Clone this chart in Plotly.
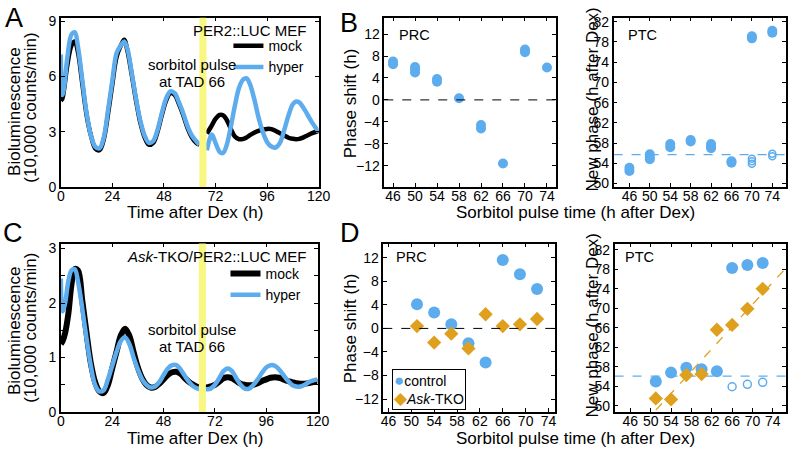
import plotly.graph_objects as go

W, H = 802, 460
FONT = "Liberation Sans, Arial, Helvetica, sans-serif"
BLUE = "#5DADEE"
ORANGE = "#DFA01E"
YELLOW = "#F7F781"

# A: PER2::LUC MEF, bioluminescence (10,000 counts/min) vs time after Dex (h)
A_T_PRE = [0, 0.7, 1.5, 3, 5, 6.5, 8, 10, 12, 14, 16, 18, 20, 22, 24, 26, 28, 29.5,
           31, 33, 35, 37, 39, 41, 43, 45, 47, 49, 51, 53, 55, 57, 59, 61, 63, 64.5]
A_MOCK_PRE = [4.7, 4.8, 5.3, 6.6, 7.7, 7.9, 7.3, 5.6, 3.9, 2.8, 2.1, 2.0, 2.6, 4.0, 5.6, 7.1, 7.7, 8.0,
              7.4, 6.1, 4.7, 3.5, 2.7, 2.3, 2.4, 3.0, 3.9, 4.7, 5.1, 5.0, 4.5, 3.9, 3.2, 2.7, 2.4, 2.3]
A_HYPER_PRE = [7.2, 5.0, 5.4, 7.0, 8.3, 8.4, 7.6, 5.8, 4.0, 2.8, 2.2, 2.1, 2.7, 4.2, 5.8, 7.3, 7.7, 7.9,
               7.5, 6.2, 4.8, 3.6, 2.8, 2.4, 2.5, 3.1, 4.0, 4.8, 5.2, 5.1, 4.6, 4.0, 3.3, 2.8, 2.5, 2.3]
A_T_POST = [68, 69, 70.3, 72, 74, 75.5, 77, 79, 81, 83, 85, 86.5, 88, 90, 92, 94, 96, 98, 100,
            102, 104, 106, 108, 109.5, 111, 113, 115, 117, 120]
A_MOCK_POST = [2.9, 3.1, 3.35, 3.7, 3.92, 3.9, 3.7, 3.2, 2.75, 2.6, 2.62, 2.7, 2.82, 2.95, 3.05, 3.12,
               3.16, 3.15, 3.05, 2.92, 2.8, 2.68, 2.62, 2.6, 2.62, 2.7, 2.82, 2.93, 3.05]
A_HYPER_POST = [2.0, 2.5, 2.85, 2.4, 1.9, 1.85, 2.2, 3.2, 4.4, 5.4, 5.85, 5.9, 5.6, 4.8, 3.8, 3.0,
                2.45, 2.2, 2.15, 2.4, 3.1, 3.9, 4.5, 4.65, 4.6, 4.3, 3.9, 3.5, 3.0]

# C: Ask-TKO/PER2::LUC MEF
C_T = [0, 0.8, 2, 3.5, 5, 6.5, 8, 10, 12, 14, 16, 18, 20, 22, 24, 26, 28, 30, 32, 34, 36, 38,
       40, 42, 44, 46, 48, 50, 52, 54, 56, 58, 60, 62, 64, 66, 68, 70, 72, 74, 76, 78, 80, 82,
       84, 86, 88, 90, 92, 94, 96, 98, 100, 102, 104, 106, 108, 110, 112, 114, 116, 118, 120]
C_MOCK = [1.25, 1.3, 1.45, 1.8, 2.35, 2.62, 2.6, 2.05, 1.45, 0.9, 0.55, 0.38, 0.35, 0.5, 0.8,
          1.1, 1.4, 1.53, 1.4, 1.1, 0.82, 0.62, 0.5, 0.45, 0.46, 0.52, 0.6, 0.68, 0.73, 0.74,
          0.7, 0.62, 0.55, 0.5, 0.46, 0.45, 0.45, 0.47, 0.5, 0.56, 0.62, 0.64, 0.62, 0.57, 0.52,
          0.5, 0.49, 0.5, 0.53, 0.57, 0.6, 0.63, 0.64, 0.63, 0.6, 0.57, 0.55, 0.53, 0.52, 0.52,
          0.53, 0.55, 0.55]
C_HYPER = [2.45, 1.85, 2.0, 2.4, 2.6, 2.62, 2.4, 1.9, 1.35, 0.85, 0.5, 0.38, 0.4, 0.6, 0.85,
           1.1, 1.3, 1.37, 1.25, 1.0, 0.78, 0.6, 0.5, 0.45, 0.47, 0.55, 0.68, 0.8, 0.86, 0.86,
           0.78, 0.66, 0.55, 0.47, 0.43, 0.42, 0.42, 0.43, 0.5, 0.62, 0.75, 0.8, 0.75, 0.62, 0.5,
           0.43, 0.43, 0.5, 0.6, 0.72, 0.82, 0.86, 0.85, 0.78, 0.68, 0.58, 0.5, 0.47, 0.47, 0.5,
           0.55, 0.58, 0.6]

PULSE = [64.5, 67.8]

# B: PRC / PTC, sorbitol pulse time (h after Dex)
B_PRC_X = [46, 46, 50, 50, 50, 54, 54, 58, 62, 62, 66, 70, 70, 74]
B_PRC_Y = [6.5, 7.0, 5.0, 5.5, 6.0, 3.3, 3.8, 0.3, -4.6, -5.2, -11.6, 8.7, 9.2, 5.9]
B_PTC_X = [46, 46, 50, 50, 50, 54, 54, 58, 58, 62, 62, 62, 66, 66, 70, 70, 74, 74]
B_PTC_Y = [52.5, 53.1, 54.8, 55.3, 55.8, 57.2, 57.8, 58.3, 58.6, 57.0, 57.4, 57.8, 54.1, 54.4,
           78.7, 79.1, 79.8, 80.2]
B_PTC_OPEN_X = [70, 70, 70, 74, 74]
B_PTC_OPEN_Y = [53.9, 54.4, 54.9, 55.4, 55.9]
B_PTC_MEAN = 55.7

# D: control vs Ask-TKO
D_T = [51, 54, 57, 60, 63, 66, 69, 72]
D_PRC_CTRL = [4.1, 2.7, 0.7, -2.5, -5.8, 11.6, 9.2, 6.7]
D_PRC_TKO = [0.4, -2.4, -0.9, -3.4, 2.4, 0.4, 0.7, 1.6]
D_PTC_CTRL = [55.0, 56.8, 57.8, 57.5, 57.1, 78.3, 78.9, 79.3]
D_PTC_OPEN_X = [66, 69, 72]
D_PTC_OPEN_Y = [53.9, 54.4, 54.8]
D_PTC_TKO = [51.5, 51.3, 56.3, 56.5, 65.6, 66.6, 69.9, 74.0]
D_FIT_X = [51.0, 76.4]
D_FIT_Y = [49.1, 78.1]
D_PTC_MEAN = 56.1


def px_x(a, b):
    return [a / W, b / W]


def px_y(top, bottom):
    return [1 - bottom / H, 1 - top / H]


def axis(**kw):
    base = dict(showline=True, linecolor="black", linewidth=1.5, mirror="ticks",
                ticks="inside", ticklen=4, tickwidth=1.2, tickcolor="black",
                showgrid=False, zeroline=False,
                tickfont=dict(size=14, color="black", family=FONT))
    base.update(kw)
    return base


def xaxis(**kw):
    return axis(ticklabelstandoff=-5, **kw)


fig = go.Figure()

# A
fig.add_trace(go.Scatter(x=A_T_PRE + [None] + A_T_POST, y=A_MOCK_PRE + [None] + A_MOCK_POST,
                         mode="lines", line=dict(color="black", width=4.5, shape="spline"),
                         name="mock", legend="legend", xaxis="x", yaxis="y"))
fig.add_trace(go.Scatter(x=A_T_PRE + [None] + A_T_POST, y=A_HYPER_PRE + [None] + A_HYPER_POST,
                         mode="lines", line=dict(color=BLUE, width=4.5, shape="spline"),
                         name="hyper", legend="legend", xaxis="x", yaxis="y"))
# C
fig.add_trace(go.Scatter(x=C_T, y=C_MOCK, mode="lines",
                         line=dict(color="black", width=6, shape="spline"),
                         name="mock", legend="legend2", xaxis="x4", yaxis="y4"))
fig.add_trace(go.Scatter(x=C_T, y=C_HYPER, mode="lines",
                         line=dict(color=BLUE, width=4.5, shape="spline"),
                         name="hyper", legend="legend2", xaxis="x4", yaxis="y4"))

# B PRC / PTC
fig.add_trace(go.Scatter(x=B_PRC_X, y=B_PRC_Y, mode="markers", showlegend=False,
                         marker=dict(color=BLUE, size=10), xaxis="x2", yaxis="y2"))
fig.add_trace(go.Scatter(x=B_PTC_X, y=B_PTC_Y, mode="markers", showlegend=False,
                         marker=dict(color=BLUE, size=10), xaxis="x3", yaxis="y3"))
fig.add_trace(go.Scatter(x=B_PTC_OPEN_X, y=B_PTC_OPEN_Y, mode="markers", showlegend=False,
                         marker=dict(color=BLUE, size=7, symbol="circle-open", line=dict(width=1.5)),
                         xaxis="x3", yaxis="y3"))

# D PRC
fig.add_trace(go.Scatter(x=D_T, y=D_PRC_CTRL, mode="markers", showlegend=False,
                         marker=dict(color=BLUE, size=12), xaxis="x5", yaxis="y5"))
fig.add_trace(go.Scatter(x=D_T, y=D_PRC_TKO, mode="markers", showlegend=False,
                         marker=dict(color=ORANGE, size=11, symbol="diamond"), xaxis="x5", yaxis="y5"))
# D PTC
fig.add_trace(go.Scatter(x=D_FIT_X, y=D_FIT_Y, mode="lines", showlegend=False,
                         line=dict(color=ORANGE, width=1.3, dash="dash"), xaxis="x6", yaxis="y6"))
fig.add_trace(go.Scatter(x=D_T, y=D_PTC_CTRL, mode="markers", showlegend=False,
                         marker=dict(color=BLUE, size=12), xaxis="x6", yaxis="y6"))
fig.add_trace(go.Scatter(x=D_PTC_OPEN_X, y=D_PTC_OPEN_Y, mode="markers", showlegend=False,
                         marker=dict(color=BLUE, size=8, symbol="circle-open", line=dict(width=1.5)),
                         xaxis="x6", yaxis="y6"))
fig.add_trace(go.Scatter(x=D_T, y=D_PTC_TKO, mode="markers", showlegend=False,
                         marker=dict(color=ORANGE, size=11, symbol="diamond"), xaxis="x6", yaxis="y6"))

# sorbitol pulse bands
for xr, yr in [("x", "y domain"), ("x4", "y4 domain")]:
    fig.add_shape(type="rect", xref=xr, yref=yr, x0=PULSE[0], x1=PULSE[1], y0=0, y1=1,
                  fillcolor=YELLOW, line_width=0, layer="above")

# reference lines
fig.add_shape(type="line", xref="x2 domain", yref="y2", x0=0, x1=1, y0=0, y1=0,
              line=dict(color="black", width=1, dash="dash"))
fig.add_shape(type="line", xref="x5 domain", yref="y5", x0=0, x1=1, y0=0, y1=0,
              line=dict(color="black", width=1, dash="dash"))
fig.add_shape(type="line", xref="x3 domain", yref="y3", x0=0, x1=1, y0=B_PTC_MEAN, y1=B_PTC_MEAN,
              line=dict(color=BLUE, width=1.3, dash="dash"), layer="below")
fig.add_shape(type="line", xref="x6 domain", yref="y6", x0=0, x1=1, y0=D_PTC_MEAN, y1=D_PTC_MEAN,
              line=dict(color=BLUE, width=1.3, dash="dash"), layer="below")

top_row = px_y(14, 188)
bot_row = px_y(246, 419)

fig.update_layout(
    width=W, height=H, margin=dict(l=0, r=0, t=0, b=0),
    paper_bgcolor="white", plot_bgcolor="white",
    font=dict(family=FONT, color="black", size=14),
    xaxis=xaxis(domain=px_x(58, 321), range=[0, 120], dtick=24, tick0=0, anchor="y"),
    yaxis=axis(domain=top_row, range=[0, 9.2], dtick=3, tick0=0, anchor="x"),
    xaxis2=xaxis(domain=px_x(388, 563), range=[44.4, 75.6], dtick=4, tick0=46, anchor="y2"),
    yaxis2=axis(domain=top_row, range=[-15.9, 15], dtick=4, tick0=0, anchor="x2"),
    xaxis3=xaxis(domain=px_x(622, 798), range=[42.9, 76.7], dtick=4, tick0=46, anchor="y3"),
    yaxis3=axis(domain=top_row, range=[49.3, 82.8], dtick=4, tick0=50, anchor="x3"),
    xaxis4=xaxis(domain=px_x(58, 320), range=[0, 120], dtick=24, tick0=0, anchor="y4"),
    yaxis4=axis(domain=bot_row, range=[0, 3.09], dtick=1, tick0=0, anchor="x4",
                minor=dict(dtick=0.5, ticks="inside", ticklen=4, tickcolor="black")),
    xaxis5=xaxis(domain=px_x(387, 562), range=[45.1, 75.1], dtick=4, tick0=46, anchor="y5"),
    yaxis5=axis(domain=bot_row, range=[-14.2, 14.4], dtick=4, tick0=0, anchor="x5"),
    xaxis6=xaxis(domain=px_x(623, 798), range=[42.9, 76.6], dtick=4, tick0=46, anchor="y6"),
    yaxis6=axis(domain=bot_row, range=[48.7, 83.3], dtick=4, tick0=50, anchor="x6"),
    legend=dict(x=229 / W, y=1 - 54 / H, xanchor="left", yanchor="middle",
                bgcolor="rgba(0,0,0,0)", font=dict(size=14)),
    legend2=dict(x=226 / W, y=1 - 288 / H, xanchor="left", yanchor="middle",
                 bgcolor="rgba(0,0,0,0)", font=dict(size=14)),
)


def note(text, x, y, size=15, angle=0, xanchor="center", **kw):
    fig.add_annotation(text=text, x=x / W, y=1 - y / H, xref="paper", yref="paper",
                       showarrow=False, textangle=angle, xanchor=xanchor, yanchor="middle",
                       font=dict(size=size, color="black", family=FONT), **kw)


# panel letters
note("A", 10, 14, size=27)
note("B", 352, 19, size=27)
note("C", 9, 235, size=27)
note("D", 353, 235, size=27)

# axis titles
note("Bioluminescence", 10, 110, size=17, angle=-90)
note("(10,000 counts/min)", 27, 106, size=17, angle=-90)
note("Bioluminescence", 10, 335, size=17, angle=-90)
note("(10,000 counts/min)", 27, 332, size=17, angle=-90)
note("Time after Dex (h)", 195, 214, size=17)
note("Time after Dex (h)", 195, 446, size=17)
note("Phase shift (h)", 353, 102, size=17, angle=-90)
note("Phase shift (h)", 353, 333, size=17, angle=-90)
note("New phase (h after Dex)", 600, 98, size=17, angle=-90)
note("New phase (h after Dex)", 600, 330, size=17, angle=-90)
note("Sorbitol pulse time (h after Dex)", 583, 214, size=17)
note("Sorbitol pulse time (h after Dex)", 583, 446, size=17)

# in-panel labels
note("PER2::LUC MEF", 310, 27, xanchor="right")
note("<i>Ask</i>-TKO/PER2::LUC MEF", 310, 259, xanchor="right")
note("sorbitol pulse", 192, 62, size=15)
note("at TAD 66", 192, 80, size=15)
note("sorbitol pulse", 192, 334, size=15)
note("at TAD 66", 192, 352, size=15)
note("PRC", 419, 32, size=14.5)
note("PTC", 652, 32, size=14.5)
note("PRC", 416, 260, size=14.5)
note("PTC", 648, 260, size=14.5)

# D legend box
note(f"<span style='color:{BLUE};font-size:17px'>●</span>control<br>"
     f"<span style='color:{ORANGE};font-size:17px'>◆</span><i>Ask</i>-TKO",
     396, 396, size=14, xanchor="left", align="left", bordercolor="black",
     borderwidth=1, borderpad=1, bgcolor="white")

# strip the default page margin so the figure sits at the window origin
page_fix = ("document.documentElement.style.overflow='hidden';"
            "document.body.style.margin='0px';document.body.style.overflow='hidden';")
fig.write_html("out.html", config={"displayModeBar": False}, post_script=page_fix)
